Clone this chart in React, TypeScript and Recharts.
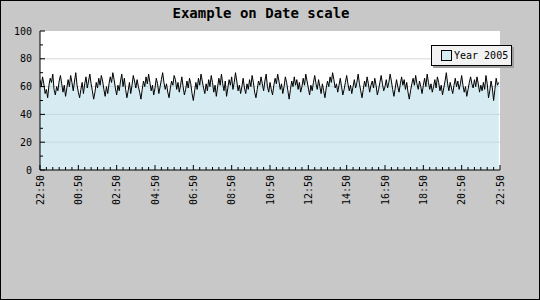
import React from 'react';
import { ComposedChart, Area, XAxis, YAxis, CartesianGrid, Legend } from 'recharts';

const title = 'Example on Date scale';
const seriesName = 'Year 2005';

// one sample every 240 s, 360 samples over 24 h
const sampleMinutes = 4;
const yearValues = [
  65, 60, 67, 62, 55, 58, 52, 61, 66, 63, 69, 58, 54, 60, 57, 64, 68, 62, 56, 61,
  53, 59, 65, 60, 68, 63, 57, 64, 70, 61, 56, 52, 58, 63, 55, 62, 67, 59, 64, 69,
  62, 57, 51, 56, 63, 59, 66, 61, 68, 64, 58, 53, 60, 55, 62, 67, 63, 70, 65, 59,
  54, 61, 57, 64, 69, 60, 66, 58, 52, 57, 63, 55, 61, 68, 64, 59, 65, 60, 56, 51,
  58, 64, 60, 67, 62, 69, 63, 57, 61, 54, 59, 66, 62, 55, 60, 65, 70, 63, 58, 62,
  56, 52, 59, 64, 61, 68, 65, 58, 63, 56, 61, 67, 60, 54, 58, 64, 59, 66, 62, 55,
  50, 57, 63, 58, 66, 61, 69, 64, 59, 55, 62, 57, 65, 60, 68, 63, 56, 61, 53, 60,
  66, 61, 69, 62, 57, 64, 53, 59, 65, 61, 67, 58, 63, 70, 64, 57, 61, 55, 60, 66,
  59, 55, 62, 58, 65, 60, 68, 63, 56, 52, 58, 64, 61, 67, 62, 57, 64, 69, 60, 56,
  63, 58, 54, 61, 66, 62, 69, 64, 58, 62, 55, 60, 67, 63, 57, 51, 58, 64, 60, 67,
  61, 65, 58, 63, 56, 60, 66, 61, 69, 64, 59, 54, 61, 57, 63, 68, 62, 58, 65, 60,
  55, 62, 57, 52, 59, 64, 60, 67, 63, 70, 65, 59, 62, 56, 61, 66, 60, 54, 58, 63,
  68, 62, 57, 61, 55, 60, 65, 59, 63, 69, 62, 57, 52, 58, 64, 60, 67, 62, 56, 61,
  64, 59, 66, 61, 54, 58, 63, 68, 62, 57, 60, 65, 59, 63, 69, 64, 58, 53, 59, 65,
  60, 56, 62, 67, 61, 65, 58, 63, 56, 51, 57, 62, 66, 61, 68, 62, 58, 64, 60, 55,
  61, 66, 60, 69, 63, 58, 62, 56, 60, 65, 59, 67, 63, 57, 61, 54, 59, 64, 70, 62,
  57, 63, 59, 55, 61, 66, 60, 64, 58, 62, 68, 61, 56, 60, 53, 58, 63, 67, 62, 59,
  65, 60, 67, 62, 56, 61, 57, 63, 58, 68, 62, 52, 57, 64, 59, 50, 58, 66, 61, 63,
];

// major ticks (minutes from start) and their labels
const timeTicks = [0, 120, 240, 360, 480, 600, 720, 840, 960, 1080, 1200, 1320, 1440];
const timeLabels = ['22:50', '00:50', '02:50', '04:50', '06:50', '08:50', '10:50',
  '12:50', '14:50', '16:50', '18:50', '20:50', '22:50'];
const minorStep = 20;
const yTicks = [0, 10, 20, 30, 40, 50, 60, 70, 80, 90, 100];
const yLabelTicks = [0, 20, 40, 60, 80, 100];

const data = yearValues.map((v, i) => ({ t: i * sampleMinutes, v }));
const allTimeTicks: number[] = [];
for (let m = 0; m <= 1440; m += minorStep) allTimeTicks.push(m);

const font = '"DejaVu Sans Mono", monospace';

const XTick = (props: any) => {
  const { x, y, payload } = props;
  const idx = timeTicks.indexOf(payload.value);
  const major = idx >= 0;
  const ty = y + 5;
  return (
    <g>
      <line x1={x} x2={x} y1={y} y2={y - (major ? 5 : 3)} stroke="#000" />
      {major && (
        <text x={x} y={ty} transform={`rotate(-90 ${x} ${ty})`} textAnchor="end"
          dominantBaseline="central" fontFamily={font} fontSize={10} fill="#000">
          {timeLabels[idx]}
        </text>
      )}
    </g>
  );
};

const YTick = (props: any) => {
  const { x, y, payload } = props;
  const major = yLabelTicks.includes(payload.value);
  return (
    <g>
      <line x1={x} x2={x + (major ? 5 : 3)} y1={y} y2={y} stroke="#000" />
      {major && (
        <text x={x - 8} y={y} textAnchor="end" dominantBaseline="central"
          fontFamily={font} fontSize={10} fill="#000">
          {payload.value}
        </text>
      )}
    </g>
  );
};

const LegendBox = () => (
  <div style={{
    display: 'flex', alignItems: 'center', width: 79, height: 19,
    border: '1px solid #000', background: '#f2f2f2', boxShadow: '2px 2px 0 #a0a0a0',
    fontFamily: font, fontSize: 10, color: '#000',
  }}>
    <span style={{ display: 'inline-block', width: 9, height: 9, border: '1px solid #000',
      background: '#d6ecf3', marginLeft: 9, marginRight: 2 }} />
    <span>{seriesName}</span>
  </div>
);

export default function App() {
  return (
    <div style={{ position: 'absolute', left: 0, top: 0, width: 540, height: 300,
      background: '#c8c8c8', boxShadow: 'inset 0 0 0 1px #000' }}>
      <ComposedChart width={540} height={300} data={data}
        margin={{ top: 31, right: 40, left: 0, bottom: 90 }}>
        <text x={261} y={13} textAnchor="middle" dominantBaseline="central"
          fontFamily={font} fontSize={14} fontWeight="bold" fill="#000">{title}</text>
        <CartesianGrid vertical={false} horizontalValues={[20, 40, 60, 80]}
          stroke="#d8d8d8" fill="#ffffff" fillOpacity={1} />
        <XAxis dataKey="t" type="number" domain={[0, 1440]} ticks={allTimeTicks}
          interval={0} height={40} tickSize={0} tickMargin={0} tickLine={false}
          axisLine={{ stroke: '#000' }} tick={<XTick />} allowDataOverflow />
        <YAxis type="number" domain={[0, 100]} ticks={yTicks} interval={0} width={40}
          tickSize={0} tickMargin={0} tickLine={false} axisLine={{ stroke: '#000' }}
          tick={<YTick />} />
        <Area type="linear" dataKey="v" name={seriesName} stroke="#000" strokeWidth={1}
          fill="#add8e6" fillOpacity={0.5} dot={false} activeDot={false}
          isAnimationActive={false} />
        <Legend layout="horizontal" verticalAlign="middle" content={<LegendBox />}
          wrapperStyle={{ left: 431, top: 45, width: 'auto', height: 'auto' }} />
      </ComposedChart>
    </div>
  );
}
